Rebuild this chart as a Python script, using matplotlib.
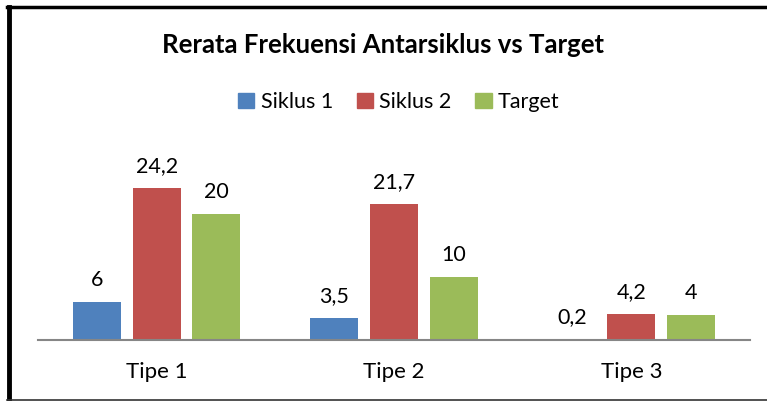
import matplotlib
matplotlib.use("Agg")
import matplotlib.pyplot as plt
from matplotlib.lines import Line2D
import numpy as np

categories = ["Tipe 1", "Tipe 2", "Tipe 3"]
series = ["Siklus 1", "Siklus 2", "Target"]
siklus1 = [6, 3.5, 0.2]
siklus2 = [24.2, 21.7, 4.2]
target = [20, 10, 4]
colors = ["#4F81BD", "#C0504D", "#9BBB59"]

plt.rcParams['font.family'] = ['Lato', 'DejaVu Sans']

W, H = 767, 401
fig = plt.figure(figsize=(W / 100, H / 100), dpi=100)

# axes placed so that the baseline sits at y=340 px
base_px = 340
top_px = 151.5
ax = fig.add_axes([38 / W, (H - base_px) / H, (750 - 38) / W, (base_px - top_px) / H])

x = np.arange(len(categories))
width = 0.2025
step = 0.251
for i, (name, vals) in enumerate(zip(series, [siklus1, siklus2, target])):
    pos = x + (i - 1) * step
    ax.bar(pos, vals, width, color=colors[i], label=name, zorder=2)
    for p, v in zip(pos, vals):
        ax.text(p, v + 1.9, str(v).replace(".", ","), ha="center", va="bottom",
                fontsize=15.5, color="black")

ax.set_xlim(-0.5, 2.5)
ax.set_ylim(0, 30)
ax.set_yticks([])
ax.set_xticks(x)
ax.set_xticklabels(categories, fontsize=16)
ax.tick_params(axis="x", length=0, pad=16)
for s in ["top", "right", "left"]:
    ax.spines[s].set_visible(False)
ax.spines["bottom"].set_color("#868686")
ax.spines["bottom"].set_linewidth(1.5)

fig.text(0.5, (H - 45) / H, "Rerata Frekuensi Antarsiklus vs Target", ha="center",
         va="center", fontsize=18.5, fontweight="bold")

handles = [plt.Rectangle((0, 0), 1, 1, color=c) for c in colors]
fig.legend(handles, series, loc="center", bbox_to_anchor=(399 / W, (H - 102) / H),
           ncol=3, frameon=False, fontsize=15.5, handlelength=0.75, handleheight=0.75,
           handletextpad=0.3, columnspacing=1.1)

# chart frame
fig.add_artist(Line2D([8.5 / W, 8.5 / W], [1 - 7 / H, 1 - 400 / H], color="black", lw=3.5))
fig.add_artist(Line2D([7 / W, 1], [1 - 7 / H, 1 - 7 / H], color="black", lw=2.5))
fig.add_artist(Line2D([7 / W, 1], [1 - 400 / H, 1 - 400 / H], color="#333333", lw=1.2))

fig.savefig("out.png", dpi=100)
